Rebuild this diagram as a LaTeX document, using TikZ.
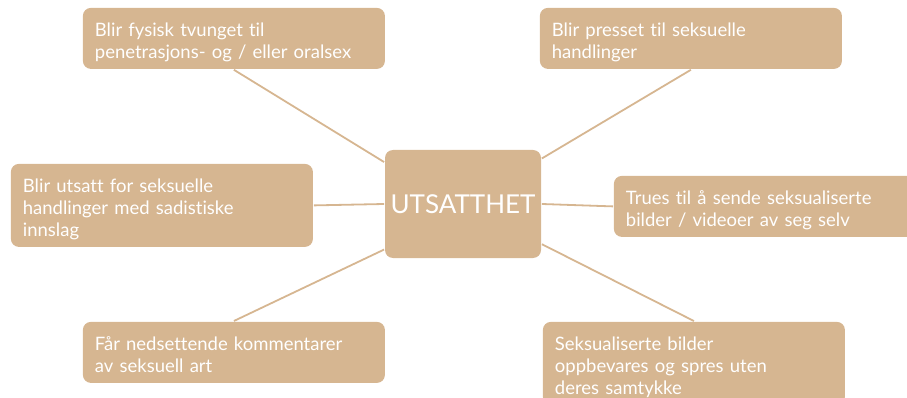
\documentclass[tikz,border=0pt]{standalone}
\usepackage{fontspec}
\setmainfont{Lato}[Ligatures=NoCommon]
\usepackage{tikz}
\definecolor{sand}{RGB}{214,182,145}

\begin{document}
\begin{tikzpicture}[x=1pt,y=-1pt,line width=1.8pt,
    every edge/.style={draw=sand},
    boks/.style={rectangle,rounded corners=8pt,fill=sand,text=white,anchor=north west,
      align=left,text width=278pt,inner xsep=12pt,inner ysep=0pt,text height=29pt,
      font=\fontsize{18.5}{22}\selectfont},
    midt/.style={rectangle,rounded corners=8pt,fill=sand,text=white,inner sep=0pt,
      minimum width=156pt,minimum height=108pt,font=\fontsize{26}{30}\selectfont}]
  \useasboundingbox (0,0) rectangle (907,398);

  \node[midt] (sentrum) at (463,204) {UTSATTHET};
  \node[boks,text depth=32pt] (tvang) at (82,7)
    {Blir fysisk tvunget til\\penetrasjons- og / eller oralsex};
  \node[boks,text depth=32pt] (press) at (539,7)
    {Blir presset til seksuelle\\handlinger};
  \node[boks,text depth=54pt] (sadisme) at (10,163)
    {Blir utsatt for seksuelle\\handlinger med sadistiske\\innslag};
  \node[boks,text depth=32pt] (trussel) at (613,175)
    {Trues til å sende seksualiserte\\bilder / videoer av seg selv};
  \node[boks,text depth=32pt] (kommentar) at (82,321)
    {Får nedsettende kommentarer\\av seksuell art};
  \node[boks,text depth=54pt] (spredning) at (542,321)
    {Seksualiserte bilder\\oppbevares og spres uten\\deres samtykke};

  \path (tvang.south) edge (sentrum.152);
  \path (press.south) edge (sentrum.30);
  \path (sadisme.east) edge (sentrum.west);
  \path (trussel.west) edge (sentrum.east);
  \path (kommentar.north) edge (sentrum.210);
  \path (spredning.north) edge (sentrum.333);
\end{tikzpicture}
\end{document}
